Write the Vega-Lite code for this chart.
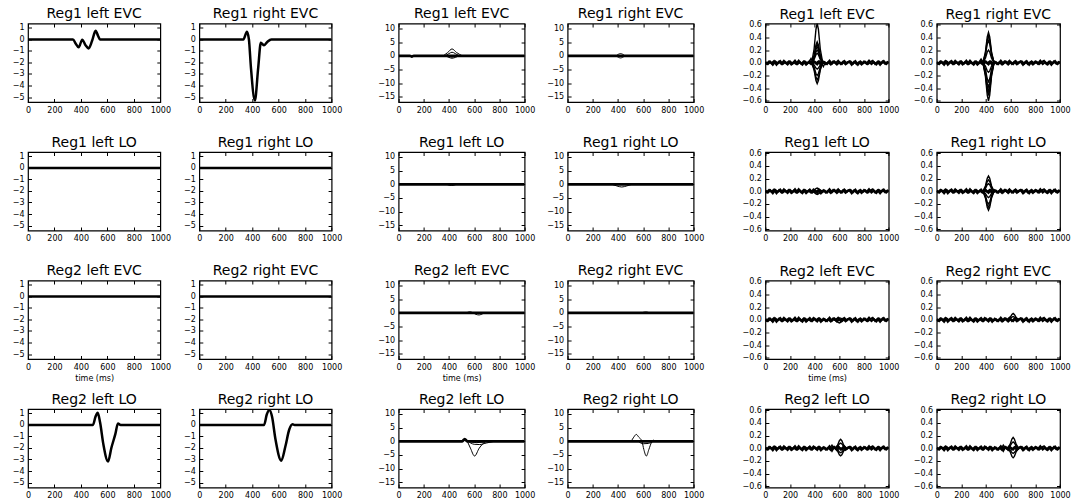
{
"$schema":"https://vega.github.io/schema/vega-lite/v6.json",
"padding":{"left":11,"top":5.5,"right":0,"bottom":0},
"config":{
 "view":{"stroke":"black","strokeWidth":1.2},
 "font":"DejaVu Sans",
 "numberFormat":"d",
 "point":{"size":0,"strokeWidth":0,"opacity":0},
 "axis":{"domain":false,"grid":false,"tickColor":"black","tickSize":-3.5,"tickWidth":1,"labelFont":"DejaVu Sans","labelFontSize":8,"labelColor":"black","labelPadding":7.5,"labelFlush":false,"labelOverlap":false,"titleFont":"DejaVu Sans","titleFontSize":8,"titleFontWeight":"normal","titleColor":"black","titlePadding":3},
 "title":{"font":"DejaVu Sans","fontSize":14,"fontWeight":"normal","color":"black","offset":2}
},
"datasets":{"nz":[
{"s":"n1","t":0,"v":0.01},{"s":"n1","t":20,"v":-0.02},{"s":"n1","t":40,"v":0.015},{"s":"n1","t":60,"v":-0.03},{"s":"n1","t":80,"v":0.02},{"s":"n1","t":100,"v":-0.01},{"s":"n1","t":120,"v":0.025},{"s":"n1","t":140,"v":-0.02},{"s":"n1","t":160,"v":0.01},{"s":"n1","t":180,"v":-0.025},{"s":"n1","t":200,"v":0.02},{"s":"n1","t":220,"v":-0.015},{"s":"n1","t":240,"v":0.03},{"s":"n1","t":260,"v":-0.02},{"s":"n1","t":280,"v":0.01},{"s":"n1","t":300,"v":-0.03},{"s":"n1","t":320,"v":0.02},{"s":"n1","t":340,"v":-0.01},{"s":"n1","t":360,"v":0.025},{"s":"n1","t":380,"v":-0.02},{"s":"n1","t":400,"v":0.015},{"s":"n1","t":420,"v":-0.025},{"s":"n1","t":440,"v":0.02},{"s":"n1","t":460,"v":-0.015},{"s":"n1","t":480,"v":0.01},{"s":"n1","t":500,"v":-0.02},{"s":"n1","t":520,"v":0.03},{"s":"n1","t":540,"v":-0.015},{"s":"n1","t":560,"v":0.02},{"s":"n1","t":580,"v":-0.025},{"s":"n1","t":600,"v":0.01},{"s":"n1","t":620,"v":-0.02},{"s":"n1","t":640,"v":0.025},{"s":"n1","t":660,"v":-0.01},{"s":"n1","t":680,"v":0.02},{"s":"n1","t":700,"v":-0.03},{"s":"n1","t":720,"v":0.015},{"s":"n1","t":740,"v":-0.02},{"s":"n1","t":760,"v":0.01},{"s":"n1","t":780,"v":-0.025},{"s":"n1","t":800,"v":0.02},{"s":"n1","t":820,"v":-0.015},{"s":"n1","t":840,"v":0.03},{"s":"n1","t":860,"v":-0.02},{"s":"n1","t":880,"v":0.01},{"s":"n1","t":900,"v":-0.025},{"s":"n1","t":920,"v":0.02},{"s":"n1","t":940,"v":-0.01},{"s":"n1","t":960,"v":0.025},{"s":"n1","t":980,"v":-0.02},{"s":"n1","t":1000,"v":0.01},
{"s":"n2","t":0,"v":0.005},{"s":"n2","t":10,"v":-0.015},{"s":"n2","t":30,"v":0.02},{"s":"n2","t":50,"v":-0.01},{"s":"n2","t":70,"v":0.025},{"s":"n2","t":90,"v":-0.03},{"s":"n2","t":110,"v":0.015},{"s":"n2","t":130,"v":-0.02},{"s":"n2","t":150,"v":0.03},{"s":"n2","t":170,"v":-0.01},{"s":"n2","t":190,"v":0.02},{"s":"n2","t":210,"v":-0.025},{"s":"n2","t":230,"v":0.01},{"s":"n2","t":250,"v":-0.02},{"s":"n2","t":270,"v":0.03},{"s":"n2","t":290,"v":-0.015},{"s":"n2","t":310,"v":0.02},{"s":"n2","t":330,"v":-0.03},{"s":"n2","t":350,"v":0.01},{"s":"n2","t":370,"v":-0.02},{"s":"n2","t":390,"v":0.025},{"s":"n2","t":410,"v":-0.01},{"s":"n2","t":430,"v":0.02},{"s":"n2","t":450,"v":-0.03},{"s":"n2","t":470,"v":0.015},{"s":"n2","t":490,"v":-0.02},{"s":"n2","t":510,"v":0.01},{"s":"n2","t":530,"v":-0.025},{"s":"n2","t":550,"v":0.02},{"s":"n2","t":570,"v":-0.01},{"s":"n2","t":590,"v":0.03},{"s":"n2","t":610,"v":-0.02},{"s":"n2","t":630,"v":0.015},{"s":"n2","t":650,"v":-0.025},{"s":"n2","t":670,"v":0.01},{"s":"n2","t":690,"v":0.02},{"s":"n2","t":710,"v":-0.015},{"s":"n2","t":730,"v":0.025},{"s":"n2","t":750,"v":-0.03},{"s":"n2","t":770,"v":0.02},{"s":"n2","t":790,"v":-0.01},{"s":"n2","t":810,"v":0.015},{"s":"n2","t":830,"v":-0.02},{"s":"n2","t":850,"v":0.01},{"s":"n2","t":870,"v":0.03},{"s":"n2","t":890,"v":-0.02},{"s":"n2","t":910,"v":0.015},{"s":"n2","t":930,"v":-0.03},{"s":"n2","t":950,"v":0.02},{"s":"n2","t":970,"v":-0.015},{"s":"n2","t":990,"v":0.01},{"s":"n2","t":1000,"v":0}
]},
"data":{"values":[
{"p":"1a","s":"m","t":0,"v":0},{"p":"1a","s":"m","t":340,"v":0},{"p":"1a","s":"m","t":360,"v":-0.35},{"p":"1a","s":"m","t":383,"v":-0.69},{"p":"1a","s":"m","t":410,"v":-0.02},{"p":"1a","s":"m","t":435,"v":-0.5},{"p":"1a","s":"m","t":458,"v":-0.78},{"p":"1a","s":"m","t":485,"v":-0.1},{"p":"1a","s":"m","t":511,"v":0.75},{"p":"1a","s":"m","t":530,"v":0.3},{"p":"1a","s":"m","t":544,"v":0},{"p":"1a","s":"m","t":1000,"v":0},
{"p":"1b","s":"m","t":0,"v":0},{"p":"1b","s":"m","t":333,"v":0},{"p":"1b","s":"m","t":360,"v":0.67},{"p":"1b","s":"m","t":375,"v":0},{"p":"1b","s":"m","t":390,"v":-2.4},{"p":"1b","s":"m","t":420,"v":-5.3},{"p":"1b","s":"m","t":445,"v":-2.5},{"p":"1b","s":"m","t":465,"v":-0.3},{"p":"1b","s":"m","t":490,"v":-0.5},{"p":"1b","s":"m","t":515,"v":-0.2},{"p":"1b","s":"m","t":545,"v":0},{"p":"1b","s":"m","t":1000,"v":0},
{"p":"1c","s":"m","t":0,"v":0},{"p":"1c","s":"m","t":1000,"v":0},
{"p":"1d","s":"m","t":0,"v":0},{"p":"1d","s":"m","t":1000,"v":0},
{"p":"1e","s":"m","t":0,"v":0},{"p":"1e","s":"m","t":1000,"v":0},
{"p":"1f","s":"m","t":0,"v":0},{"p":"1f","s":"m","t":1000,"v":0},
{"p":"1g","s":"m","t":0,"v":0},{"p":"1g","s":"m","t":491,"v":0},{"p":"1g","s":"m","t":510,"v":0.7},{"p":"1g","s":"m","t":527,"v":1.05},{"p":"1g","s":"m","t":545,"v":0.2},{"p":"1g","s":"m","t":570,"v":-1.7},{"p":"1g","s":"m","t":605,"v":-3.17},{"p":"1g","s":"m","t":630,"v":-2.0},{"p":"1g","s":"m","t":660,"v":-0.8},{"p":"1g","s":"m","t":680,"v":0.12},{"p":"1g","s":"m","t":700,"v":0},{"p":"1g","s":"m","t":1000,"v":0},
{"p":"1h","s":"m","t":0,"v":0},{"p":"1h","s":"m","t":490,"v":0},{"p":"1h","s":"m","t":510,"v":0.9},{"p":"1h","s":"m","t":530,"v":1.3},{"p":"1h","s":"m","t":550,"v":0.7},{"p":"1h","s":"m","t":575,"v":-1.2},{"p":"1h","s":"m","t":620,"v":-3.1},{"p":"1h","s":"m","t":650,"v":-1.9},{"p":"1h","s":"m","t":680,"v":-0.4},{"p":"1h","s":"m","t":705,"v":0.05},{"p":"1h","s":"m","t":720,"v":0},{"p":"1h","s":"m","t":1000,"v":0},
{"p":"2a","s":"m","t":0,"v":0},{"p":"2a","s":"m","t":90,"v":0},{"p":"2a","s":"m","t":105,"v":-0.3},{"p":"2a","s":"m","t":120,"v":0},{"p":"2a","s":"m","t":1000,"v":0},
{"p":"2a","s":"a","t":355,"v":0},{"p":"2a","s":"a","t":390,"v":1.2},{"p":"2a","s":"a","t":424,"v":2.5},{"p":"2a","s":"a","t":460,"v":1.2},{"p":"2a","s":"a","t":505,"v":0},
{"p":"2a","s":"b","t":370,"v":0},{"p":"2a","s":"b","t":400,"v":0.8},{"p":"2a","s":"b","t":424,"v":1.3},{"p":"2a","s":"b","t":450,"v":0.8},{"p":"2a","s":"b","t":480,"v":0},
{"p":"2a","s":"c","t":370,"v":0},{"p":"2a","s":"c","t":400,"v":-0.6},{"p":"2a","s":"c","t":424,"v":-0.9},{"p":"2a","s":"c","t":450,"v":-0.6},{"p":"2a","s":"c","t":480,"v":0},
{"p":"2a","s":"d","t":390,"v":0},{"p":"2a","s":"d","t":424,"v":-0.5},{"p":"2a","s":"d","t":460,"v":0},
{"p":"2b","s":"m","t":0,"v":0},{"p":"2b","s":"m","t":1000,"v":0},
{"p":"2b","s":"a","t":385,"v":0},{"p":"2b","s":"a","t":405,"v":0.6},{"p":"2b","s":"a","t":420,"v":0.8},{"p":"2b","s":"a","t":435,"v":0.6},{"p":"2b","s":"a","t":455,"v":0},
{"p":"2b","s":"b","t":385,"v":0},{"p":"2b","s":"b","t":405,"v":-0.6},{"p":"2b","s":"b","t":420,"v":-0.8},{"p":"2b","s":"b","t":435,"v":-0.6},{"p":"2b","s":"b","t":455,"v":0},
{"p":"2c","s":"m","t":0,"v":0},{"p":"2c","s":"m","t":1000,"v":0},
{"p":"2c","s":"a","t":380,"v":0},{"p":"2c","s":"a","t":420,"v":-0.45},{"p":"2c","s":"a","t":460,"v":0},
{"p":"2d","s":"m","t":0,"v":0},{"p":"2d","s":"m","t":1000,"v":0},
{"p":"2d","s":"a","t":350,"v":0},{"p":"2d","s":"a","t":390,"v":-0.6},{"p":"2d","s":"a","t":430,"v":-1.0},{"p":"2d","s":"a","t":470,"v":-0.6},{"p":"2d","s":"a","t":510,"v":0},
{"p":"2e","s":"m","t":0,"v":0},{"p":"2e","s":"m","t":1000,"v":0},
{"p":"2e","s":"a","t":540,"v":0},{"p":"2e","s":"a","t":565,"v":0.35},{"p":"2e","s":"a","t":590,"v":0},{"p":"2e","s":"a","t":615,"v":-0.6},{"p":"2e","s":"a","t":640,"v":-0.8},{"p":"2e","s":"a","t":665,"v":-0.4},{"p":"2e","s":"a","t":690,"v":0},
{"p":"2f","s":"m","t":0,"v":0},{"p":"2f","s":"m","t":1000,"v":0},
{"p":"2f","s":"a","t":590,"v":0},{"p":"2f","s":"a","t":620,"v":0.3},{"p":"2f","s":"a","t":650,"v":0},
{"p":"2g","s":"m","t":0,"v":0},{"p":"2g","s":"m","t":505,"v":0},{"p":"2g","s":"m","t":525,"v":0.8},{"p":"2g","s":"m","t":545,"v":0},{"p":"2g","s":"m","t":1000,"v":0},
{"p":"2g","s":"a","t":545,"v":0},{"p":"2g","s":"a","t":570,"v":-2.5},{"p":"2g","s":"a","t":603,"v":-5.4},{"p":"2g","s":"a","t":640,"v":-2.5},{"p":"2g","s":"a","t":690,"v":0},
{"p":"2g","s":"b","t":550,"v":0},{"p":"2g","s":"b","t":600,"v":-1.1},{"p":"2g","s":"b","t":640,"v":-1.2},{"p":"2g","s":"b","t":700,"v":-0.6},{"p":"2g","s":"b","t":760,"v":0},
{"p":"2g","s":"c","t":560,"v":0},{"p":"2g","s":"c","t":620,"v":-0.5},{"p":"2g","s":"c","t":700,"v":0},
{"p":"2h","s":"m","t":0,"v":0},{"p":"2h","s":"m","t":1000,"v":0},
{"p":"2h","s":"a","t":505,"v":0},{"p":"2h","s":"a","t":525,"v":1.5},{"p":"2h","s":"a","t":545,"v":2.5},{"p":"2h","s":"a","t":565,"v":1.5},{"p":"2h","s":"a","t":590,"v":0},{"p":"2h","s":"a","t":605,"v":-3},{"p":"2h","s":"a","t":625,"v":-5.4},{"p":"2h","s":"a","t":645,"v":-3},{"p":"2h","s":"a","t":665,"v":-0.5},{"p":"2h","s":"a","t":680,"v":0.4},{"p":"2h","s":"a","t":700,"v":0},
{"p":"2h","s":"b","t":560,"v":0},{"p":"2h","s":"b","t":600,"v":-0.9},{"p":"2h","s":"b","t":640,"v":-0.8},{"p":"2h","s":"b","t":680,"v":0},
{"p":"3a","s":"a","t":375,"v":0},{"p":"3a","s":"a","t":395,"v":0.217},{"p":"3a","s":"a","t":410,"v":0.527},{"p":"3a","s":"a","t":420,"v":0.62},{"p":"3a","s":"a","t":430,"v":0.527},{"p":"3a","s":"a","t":445,"v":0.217},{"p":"3a","s":"a","t":465,"v":0},
{"p":"3a","s":"b","t":375,"v":0},{"p":"3a","s":"b","t":395,"v":0.116},{"p":"3a","s":"b","t":410,"v":0.281},{"p":"3a","s":"b","t":420,"v":0.33},{"p":"3a","s":"b","t":430,"v":0.281},{"p":"3a","s":"b","t":445,"v":0.116},{"p":"3a","s":"b","t":465,"v":0},
{"p":"3a","s":"c","t":375,"v":0},{"p":"3a","s":"c","t":395,"v":0.088},{"p":"3a","s":"c","t":410,"v":0.213},{"p":"3a","s":"c","t":420,"v":0.25},{"p":"3a","s":"c","t":430,"v":0.213},{"p":"3a","s":"c","t":445,"v":0.088},{"p":"3a","s":"c","t":465,"v":0},
{"p":"3a","s":"d","t":375,"v":0},{"p":"3a","s":"d","t":395,"v":0.053},{"p":"3a","s":"d","t":410,"v":0.128},{"p":"3a","s":"d","t":420,"v":0.15},{"p":"3a","s":"d","t":430,"v":0.128},{"p":"3a","s":"d","t":445,"v":0.053},{"p":"3a","s":"d","t":465,"v":0},
{"p":"3a","s":"e","t":375,"v":0},{"p":"3a","s":"e","t":395,"v":-0.035},{"p":"3a","s":"e","t":410,"v":-0.085},{"p":"3a","s":"e","t":420,"v":-0.1},{"p":"3a","s":"e","t":430,"v":-0.085},{"p":"3a","s":"e","t":445,"v":-0.035},{"p":"3a","s":"e","t":465,"v":0},
{"p":"3a","s":"f","t":375,"v":0},{"p":"3a","s":"f","t":395,"v":-0.07},{"p":"3a","s":"f","t":410,"v":-0.17},{"p":"3a","s":"f","t":420,"v":-0.2},{"p":"3a","s":"f","t":430,"v":-0.17},{"p":"3a","s":"f","t":445,"v":-0.07},{"p":"3a","s":"f","t":465,"v":0},
{"p":"3a","s":"g","t":375,"v":0},{"p":"3a","s":"g","t":395,"v":-0.116},{"p":"3a","s":"g","t":410,"v":-0.281},{"p":"3a","s":"g","t":420,"v":-0.33},{"p":"3a","s":"g","t":430,"v":-0.281},{"p":"3a","s":"g","t":445,"v":-0.116},{"p":"3a","s":"g","t":465,"v":0},
{"p":"3a","s":"h","t":375,"v":0},{"p":"3a","s":"h","t":395,"v":0.102},{"p":"3a","s":"h","t":410,"v":0.247},{"p":"3a","s":"h","t":420,"v":0.29},{"p":"3a","s":"h","t":430,"v":0.247},{"p":"3a","s":"h","t":445,"v":0.102},{"p":"3a","s":"h","t":465,"v":0},
{"p":"3a","s":"i","t":375,"v":0},{"p":"3a","s":"i","t":395,"v":0.07},{"p":"3a","s":"i","t":410,"v":0.17},{"p":"3a","s":"i","t":420,"v":0.2},{"p":"3a","s":"i","t":430,"v":0.17},{"p":"3a","s":"i","t":445,"v":0.07},{"p":"3a","s":"i","t":465,"v":0},
{"p":"3a","s":"j","t":375,"v":0},{"p":"3a","s":"j","t":395,"v":-0.095},{"p":"3a","s":"j","t":410,"v":-0.23},{"p":"3a","s":"j","t":420,"v":-0.27},{"p":"3a","s":"j","t":430,"v":-0.23},{"p":"3a","s":"j","t":445,"v":-0.095},{"p":"3a","s":"j","t":465,"v":0},
{"p":"3a","s":"k","t":350,"v":0},{"p":"3a","s":"k","t":370,"v":0.07},{"p":"3a","s":"k","t":390,"v":0},
{"p":"3a","s":"l","t":455,"v":0},{"p":"3a","s":"l","t":470,"v":-0.06},{"p":"3a","s":"l","t":485,"v":0},
{"p":"3b","s":"a","t":375,"v":0},{"p":"3b","s":"a","t":395,"v":0.168},{"p":"3b","s":"a","t":410,"v":0.408},{"p":"3b","s":"a","t":420,"v":0.48},{"p":"3b","s":"a","t":430,"v":0.408},{"p":"3b","s":"a","t":445,"v":0.168},{"p":"3b","s":"a","t":465,"v":0},
{"p":"3b","s":"b","t":375,"v":0},{"p":"3b","s":"b","t":395,"v":0.123},{"p":"3b","s":"b","t":410,"v":0.298},{"p":"3b","s":"b","t":420,"v":0.35},{"p":"3b","s":"b","t":430,"v":0.298},{"p":"3b","s":"b","t":445,"v":0.123},{"p":"3b","s":"b","t":465,"v":0},
{"p":"3b","s":"c","t":375,"v":0},{"p":"3b","s":"c","t":395,"v":0.07},{"p":"3b","s":"c","t":410,"v":0.17},{"p":"3b","s":"c","t":420,"v":0.2},{"p":"3b","s":"c","t":430,"v":0.17},{"p":"3b","s":"c","t":445,"v":0.07},{"p":"3b","s":"c","t":465,"v":0},
{"p":"3b","s":"d","t":375,"v":0},{"p":"3b","s":"d","t":395,"v":-0.053},{"p":"3b","s":"d","t":410,"v":-0.128},{"p":"3b","s":"d","t":420,"v":-0.15},{"p":"3b","s":"d","t":430,"v":-0.128},{"p":"3b","s":"d","t":445,"v":-0.053},{"p":"3b","s":"d","t":465,"v":0},
{"p":"3b","s":"e","t":375,"v":0},{"p":"3b","s":"e","t":395,"v":-0.105},{"p":"3b","s":"e","t":410,"v":-0.255},{"p":"3b","s":"e","t":420,"v":-0.3},{"p":"3b","s":"e","t":430,"v":-0.255},{"p":"3b","s":"e","t":445,"v":-0.105},{"p":"3b","s":"e","t":465,"v":0},
{"p":"3b","s":"f","t":375,"v":0},{"p":"3b","s":"f","t":395,"v":-0.158},{"p":"3b","s":"f","t":410,"v":-0.383},{"p":"3b","s":"f","t":420,"v":-0.45},{"p":"3b","s":"f","t":430,"v":-0.383},{"p":"3b","s":"f","t":445,"v":-0.158},{"p":"3b","s":"f","t":465,"v":0},
{"p":"3b","s":"g","t":375,"v":0},{"p":"3b","s":"g","t":395,"v":-0.21},{"p":"3b","s":"g","t":410,"v":-0.51},{"p":"3b","s":"g","t":420,"v":-0.6},{"p":"3b","s":"g","t":430,"v":-0.51},{"p":"3b","s":"g","t":445,"v":-0.21},{"p":"3b","s":"g","t":465,"v":0},
{"p":"3b","s":"h","t":375,"v":0},{"p":"3b","s":"h","t":395,"v":0.147},{"p":"3b","s":"h","t":410,"v":0.357},{"p":"3b","s":"h","t":420,"v":0.42},{"p":"3b","s":"h","t":430,"v":0.357},{"p":"3b","s":"h","t":445,"v":0.147},{"p":"3b","s":"h","t":465,"v":0},
{"p":"3b","s":"i","t":375,"v":0},{"p":"3b","s":"i","t":395,"v":-0.133},{"p":"3b","s":"i","t":410,"v":-0.323},{"p":"3b","s":"i","t":420,"v":-0.38},{"p":"3b","s":"i","t":430,"v":-0.323},{"p":"3b","s":"i","t":445,"v":-0.133},{"p":"3b","s":"i","t":465,"v":0},
{"p":"3b","s":"j","t":375,"v":0},{"p":"3b","s":"j","t":395,"v":-0.182},{"p":"3b","s":"j","t":410,"v":-0.442},{"p":"3b","s":"j","t":420,"v":-0.52},{"p":"3b","s":"j","t":430,"v":-0.442},{"p":"3b","s":"j","t":445,"v":-0.182},{"p":"3b","s":"j","t":465,"v":0},
{"p":"3b","s":"k","t":340,"v":0},{"p":"3b","s":"k","t":360,"v":0.06},{"p":"3b","s":"k","t":380,"v":0},
{"p":"3c","s":"a","t":375,"v":0},{"p":"3c","s":"a","t":395,"v":0.018},{"p":"3c","s":"a","t":410,"v":0.043},{"p":"3c","s":"a","t":420,"v":0.05},{"p":"3c","s":"a","t":430,"v":0.043},{"p":"3c","s":"a","t":445,"v":0.018},{"p":"3c","s":"a","t":465,"v":0},
{"p":"3c","s":"b","t":375,"v":0},{"p":"3c","s":"b","t":395,"v":-0.018},{"p":"3c","s":"b","t":410,"v":-0.043},{"p":"3c","s":"b","t":420,"v":-0.05},{"p":"3c","s":"b","t":430,"v":-0.043},{"p":"3c","s":"b","t":445,"v":-0.018},{"p":"3c","s":"b","t":465,"v":0},
{"p":"3d","s":"a","t":375,"v":0},{"p":"3d","s":"a","t":395,"v":0.084},{"p":"3d","s":"a","t":410,"v":0.204},{"p":"3d","s":"a","t":420,"v":0.24},{"p":"3d","s":"a","t":430,"v":0.204},{"p":"3d","s":"a","t":445,"v":0.084},{"p":"3d","s":"a","t":465,"v":0},
{"p":"3d","s":"b","t":375,"v":0},{"p":"3d","s":"b","t":395,"v":0.042},{"p":"3d","s":"b","t":410,"v":0.102},{"p":"3d","s":"b","t":420,"v":0.12},{"p":"3d","s":"b","t":430,"v":0.102},{"p":"3d","s":"b","t":445,"v":0.042},{"p":"3d","s":"b","t":465,"v":0},
{"p":"3d","s":"c","t":375,"v":0},{"p":"3d","s":"c","t":395,"v":-0.035},{"p":"3d","s":"c","t":410,"v":-0.085},{"p":"3d","s":"c","t":420,"v":-0.1},{"p":"3d","s":"c","t":430,"v":-0.085},{"p":"3d","s":"c","t":445,"v":-0.035},{"p":"3d","s":"c","t":465,"v":0},
{"p":"3d","s":"d","t":375,"v":0},{"p":"3d","s":"d","t":395,"v":-0.07},{"p":"3d","s":"d","t":410,"v":-0.17},{"p":"3d","s":"d","t":420,"v":-0.2},{"p":"3d","s":"d","t":430,"v":-0.17},{"p":"3d","s":"d","t":445,"v":-0.07},{"p":"3d","s":"d","t":465,"v":0},
{"p":"3d","s":"e","t":375,"v":0},{"p":"3d","s":"e","t":395,"v":-0.105},{"p":"3d","s":"e","t":410,"v":-0.255},{"p":"3d","s":"e","t":420,"v":-0.3},{"p":"3d","s":"e","t":430,"v":-0.255},{"p":"3d","s":"e","t":445,"v":-0.105},{"p":"3d","s":"e","t":465,"v":0},
{"p":"3d","s":"f","t":375,"v":0},{"p":"3d","s":"f","t":395,"v":0.063},{"p":"3d","s":"f","t":410,"v":0.153},{"p":"3d","s":"f","t":420,"v":0.18},{"p":"3d","s":"f","t":430,"v":0.153},{"p":"3d","s":"f","t":445,"v":0.063},{"p":"3d","s":"f","t":465,"v":0},
{"p":"3d","s":"g","t":375,"v":0},{"p":"3d","s":"g","t":395,"v":-0.088},{"p":"3d","s":"g","t":410,"v":-0.213},{"p":"3d","s":"g","t":420,"v":-0.25},{"p":"3d","s":"g","t":430,"v":-0.213},{"p":"3d","s":"g","t":445,"v":-0.088},{"p":"3d","s":"g","t":465,"v":0},
{"p":"3e","s":"a","t":555,"v":0},{"p":"3e","s":"a","t":575,"v":0.011},{"p":"3e","s":"a","t":590,"v":0.026},{"p":"3e","s":"a","t":600,"v":0.03},{"p":"3e","s":"a","t":610,"v":0.026},{"p":"3e","s":"a","t":625,"v":0.011},{"p":"3e","s":"a","t":645,"v":0},
{"p":"3e","s":"b","t":555,"v":0},{"p":"3e","s":"b","t":575,"v":-0.018},{"p":"3e","s":"b","t":590,"v":-0.043},{"p":"3e","s":"b","t":600,"v":-0.05},{"p":"3e","s":"b","t":610,"v":-0.043},{"p":"3e","s":"b","t":625,"v":-0.018},{"p":"3e","s":"b","t":645,"v":0},
{"p":"3f","s":"a","t":575,"v":0},{"p":"3f","s":"a","t":595,"v":0.035},{"p":"3f","s":"a","t":610,"v":0.085},{"p":"3f","s":"a","t":620,"v":0.1},{"p":"3f","s":"a","t":630,"v":0.085},{"p":"3f","s":"a","t":645,"v":0.035},{"p":"3f","s":"a","t":665,"v":0},
{"p":"3f","s":"b","t":575,"v":0},{"p":"3f","s":"b","t":595,"v":0.018},{"p":"3f","s":"b","t":610,"v":0.043},{"p":"3f","s":"b","t":620,"v":0.05},{"p":"3f","s":"b","t":630,"v":0.043},{"p":"3f","s":"b","t":645,"v":0.018},{"p":"3f","s":"b","t":665,"v":0},
{"p":"3g","s":"a","t":565,"v":0},{"p":"3g","s":"a","t":585,"v":0.049},{"p":"3g","s":"a","t":600,"v":0.119},{"p":"3g","s":"a","t":610,"v":0.14},{"p":"3g","s":"a","t":620,"v":0.119},{"p":"3g","s":"a","t":635,"v":0.049},{"p":"3g","s":"a","t":655,"v":0},
{"p":"3g","s":"b","t":565,"v":0},{"p":"3g","s":"b","t":585,"v":0.028},{"p":"3g","s":"b","t":600,"v":0.068},{"p":"3g","s":"b","t":610,"v":0.08},{"p":"3g","s":"b","t":620,"v":0.068},{"p":"3g","s":"b","t":635,"v":0.028},{"p":"3g","s":"b","t":655,"v":0},
{"p":"3g","s":"c","t":565,"v":0},{"p":"3g","s":"c","t":585,"v":-0.025},{"p":"3g","s":"c","t":600,"v":-0.06},{"p":"3g","s":"c","t":610,"v":-0.07},{"p":"3g","s":"c","t":620,"v":-0.06},{"p":"3g","s":"c","t":635,"v":-0.025},{"p":"3g","s":"c","t":655,"v":0},
{"p":"3g","s":"d","t":565,"v":0},{"p":"3g","s":"d","t":585,"v":-0.042},{"p":"3g","s":"d","t":600,"v":-0.102},{"p":"3g","s":"d","t":610,"v":-0.12},{"p":"3g","s":"d","t":620,"v":-0.102},{"p":"3g","s":"d","t":635,"v":-0.042},{"p":"3g","s":"d","t":655,"v":0},
{"p":"3g","s":"k","t":525,"v":0},{"p":"3g","s":"k","t":540,"v":0.05},{"p":"3g","s":"k","t":555,"v":0},
{"p":"3g","s":"l","t":525,"v":0},{"p":"3g","s":"l","t":540,"v":-0.05},{"p":"3g","s":"l","t":555,"v":0},
{"p":"3h","s":"a","t":575,"v":0},{"p":"3h","s":"a","t":595,"v":0.06},{"p":"3h","s":"a","t":610,"v":0.145},{"p":"3h","s":"a","t":620,"v":0.17},{"p":"3h","s":"a","t":630,"v":0.145},{"p":"3h","s":"a","t":645,"v":0.06},{"p":"3h","s":"a","t":665,"v":0},
{"p":"3h","s":"b","t":575,"v":0},{"p":"3h","s":"b","t":595,"v":0.035},{"p":"3h","s":"b","t":610,"v":0.085},{"p":"3h","s":"b","t":620,"v":0.1},{"p":"3h","s":"b","t":630,"v":0.085},{"p":"3h","s":"b","t":645,"v":0.035},{"p":"3h","s":"b","t":665,"v":0},
{"p":"3h","s":"c","t":575,"v":0},{"p":"3h","s":"c","t":595,"v":-0.028},{"p":"3h","s":"c","t":610,"v":-0.068},{"p":"3h","s":"c","t":620,"v":-0.08},{"p":"3h","s":"c","t":630,"v":-0.068},{"p":"3h","s":"c","t":645,"v":-0.028},{"p":"3h","s":"c","t":665,"v":0},
{"p":"3h","s":"d","t":575,"v":0},{"p":"3h","s":"d","t":595,"v":-0.053},{"p":"3h","s":"d","t":610,"v":-0.128},{"p":"3h","s":"d","t":620,"v":-0.15},{"p":"3h","s":"d","t":630,"v":-0.128},{"p":"3h","s":"d","t":645,"v":-0.053},{"p":"3h","s":"d","t":665,"v":0},
{"p":"3h","s":"k","t":525,"v":0},{"p":"3h","s":"k","t":540,"v":0.05},{"p":"3h","s":"k","t":555,"v":0},
{"p":"3h","s":"l","t":525,"v":0},{"p":"3h","s":"l","t":540,"v":-0.05},{"p":"3h","s":"l","t":555,"v":0}
]},
"spacing":33.6,
"hconcat":[
{"columns":2,"bounds":"flush","spacing":{"row":49.5,"column":38.3},"concat":[
{"title":"Reg1 left EVC","width":132.3,"height":78.5,"resolve":{"axis":{"x":"independent","y":"independent"}},"layer":[
 {"transform":[{"filter":"datum.p=='1a'"}],"mark":{"type":"line","color":"black","interpolate":"monotone","clip":true},"encoding":{"x":{"field":"t","type":"quantitative","scale":{"domain":[0,1000],"nice":false,"zero":false},"axis":{"values":[0,200,400,600,800,1000],"title":null}},"y":{"field":"v","type":"quantitative","scale":{"domain":[-5.43,1.38],"nice":false,"zero":false},"axis":{"values":[1,0,-1,-2,-3,-4,-5],"format":"d","title":null}},"detail":{"field":"s"},"strokeWidth":{"condition":{"test":"datum.s=='m'","value":2.5},"value":1}}},
 {"transform":[{"filter":"datum.p=='1a'"}],"mark":{"type":"point"},"encoding":{"x":{"field":"t","type":"quantitative","scale":{"domain":[0,1000],"nice":false,"zero":false},"axis":{"orient":"top","values":[0,200,400,600,800,1000],"labels":false,"title":null}},"y":{"field":"v","type":"quantitative","scale":{"domain":[-5.43,1.38],"nice":false,"zero":false},"axis":{"orient":"right","values":[1,0,-1,-2,-3,-4,-5],"labels":false,"title":null}}}}]},
{"title":"Reg1 right EVC","width":132.3,"height":78.5,"resolve":{"axis":{"x":"independent","y":"independent"}},"layer":[
 {"transform":[{"filter":"datum.p=='1b'"}],"mark":{"type":"line","color":"black","interpolate":"monotone","clip":true},"encoding":{"x":{"field":"t","type":"quantitative","scale":{"domain":[0,1000],"nice":false,"zero":false},"axis":{"values":[0,200,400,600,800,1000],"title":null}},"y":{"field":"v","type":"quantitative","scale":{"domain":[-5.43,1.38],"nice":false,"zero":false},"axis":{"values":[1,0,-1,-2,-3,-4,-5],"format":"d","title":null}},"detail":{"field":"s"},"strokeWidth":{"condition":{"test":"datum.s=='m'","value":2.5},"value":1}}},
 {"transform":[{"filter":"datum.p=='1b'"}],"mark":{"type":"point"},"encoding":{"x":{"field":"t","type":"quantitative","scale":{"domain":[0,1000],"nice":false,"zero":false},"axis":{"orient":"top","values":[0,200,400,600,800,1000],"labels":false,"title":null}},"y":{"field":"v","type":"quantitative","scale":{"domain":[-5.43,1.38],"nice":false,"zero":false},"axis":{"orient":"right","values":[1,0,-1,-2,-3,-4,-5],"labels":false,"title":null}}}}]},
{"title":"Reg1 left LO","width":132.3,"height":78.5,"resolve":{"axis":{"x":"independent","y":"independent"}},"layer":[
 {"transform":[{"filter":"datum.p=='1c'"}],"mark":{"type":"line","color":"black","interpolate":"monotone","clip":true},"encoding":{"x":{"field":"t","type":"quantitative","scale":{"domain":[0,1000],"nice":false,"zero":false},"axis":{"values":[0,200,400,600,800,1000],"title":null}},"y":{"field":"v","type":"quantitative","scale":{"domain":[-5.43,1.38],"nice":false,"zero":false},"axis":{"values":[1,0,-1,-2,-3,-4,-5],"format":"d","title":null}},"detail":{"field":"s"},"strokeWidth":{"condition":{"test":"datum.s=='m'","value":2.5},"value":1}}},
 {"transform":[{"filter":"datum.p=='1c'"}],"mark":{"type":"point"},"encoding":{"x":{"field":"t","type":"quantitative","scale":{"domain":[0,1000],"nice":false,"zero":false},"axis":{"orient":"top","values":[0,200,400,600,800,1000],"labels":false,"title":null}},"y":{"field":"v","type":"quantitative","scale":{"domain":[-5.43,1.38],"nice":false,"zero":false},"axis":{"orient":"right","values":[1,0,-1,-2,-3,-4,-5],"labels":false,"title":null}}}}]},
{"title":"Reg1 right LO","width":132.3,"height":78.5,"resolve":{"axis":{"x":"independent","y":"independent"}},"layer":[
 {"transform":[{"filter":"datum.p=='1d'"}],"mark":{"type":"line","color":"black","interpolate":"monotone","clip":true},"encoding":{"x":{"field":"t","type":"quantitative","scale":{"domain":[0,1000],"nice":false,"zero":false},"axis":{"values":[0,200,400,600,800,1000],"title":null}},"y":{"field":"v","type":"quantitative","scale":{"domain":[-5.43,1.38],"nice":false,"zero":false},"axis":{"values":[1,0,-1,-2,-3,-4,-5],"format":"d","title":null}},"detail":{"field":"s"},"strokeWidth":{"condition":{"test":"datum.s=='m'","value":2.5},"value":1}}},
 {"transform":[{"filter":"datum.p=='1d'"}],"mark":{"type":"point"},"encoding":{"x":{"field":"t","type":"quantitative","scale":{"domain":[0,1000],"nice":false,"zero":false},"axis":{"orient":"top","values":[0,200,400,600,800,1000],"labels":false,"title":null}},"y":{"field":"v","type":"quantitative","scale":{"domain":[-5.43,1.38],"nice":false,"zero":false},"axis":{"orient":"right","values":[1,0,-1,-2,-3,-4,-5],"labels":false,"title":null}}}}]},
{"title":"Reg2 left EVC","width":132.3,"height":78.5,"resolve":{"axis":{"x":"independent","y":"independent"}},"layer":[
 {"transform":[{"filter":"datum.p=='1e'"}],"mark":{"type":"line","color":"black","interpolate":"monotone","clip":true},"encoding":{"x":{"field":"t","type":"quantitative","scale":{"domain":[0,1000],"nice":false,"zero":false},"axis":{"values":[0,200,400,600,800,1000],"title":"time (ms)"}},"y":{"field":"v","type":"quantitative","scale":{"domain":[-5.43,1.38],"nice":false,"zero":false},"axis":{"values":[1,0,-1,-2,-3,-4,-5],"format":"d","title":null}},"detail":{"field":"s"},"strokeWidth":{"condition":{"test":"datum.s=='m'","value":2.5},"value":1}}},
 {"transform":[{"filter":"datum.p=='1e'"}],"mark":{"type":"point"},"encoding":{"x":{"field":"t","type":"quantitative","scale":{"domain":[0,1000],"nice":false,"zero":false},"axis":{"orient":"top","values":[0,200,400,600,800,1000],"labels":false,"title":null}},"y":{"field":"v","type":"quantitative","scale":{"domain":[-5.43,1.38],"nice":false,"zero":false},"axis":{"orient":"right","values":[1,0,-1,-2,-3,-4,-5],"labels":false,"title":null}}}}]},
{"title":"Reg2 right EVC","width":132.3,"height":78.5,"resolve":{"axis":{"x":"independent","y":"independent"}},"layer":[
 {"transform":[{"filter":"datum.p=='1f'"}],"mark":{"type":"line","color":"black","interpolate":"monotone","clip":true},"encoding":{"x":{"field":"t","type":"quantitative","scale":{"domain":[0,1000],"nice":false,"zero":false},"axis":{"values":[0,200,400,600,800,1000],"title":null}},"y":{"field":"v","type":"quantitative","scale":{"domain":[-5.43,1.38],"nice":false,"zero":false},"axis":{"values":[1,0,-1,-2,-3,-4,-5],"format":"d","title":null}},"detail":{"field":"s"},"strokeWidth":{"condition":{"test":"datum.s=='m'","value":2.5},"value":1}}},
 {"transform":[{"filter":"datum.p=='1f'"}],"mark":{"type":"point"},"encoding":{"x":{"field":"t","type":"quantitative","scale":{"domain":[0,1000],"nice":false,"zero":false},"axis":{"orient":"top","values":[0,200,400,600,800,1000],"labels":false,"title":null}},"y":{"field":"v","type":"quantitative","scale":{"domain":[-5.43,1.38],"nice":false,"zero":false},"axis":{"orient":"right","values":[1,0,-1,-2,-3,-4,-5],"labels":false,"title":null}}}}]},
{"title":"Reg2 left LO","width":132.3,"height":78.5,"resolve":{"axis":{"x":"independent","y":"independent"}},"layer":[
 {"transform":[{"filter":"datum.p=='1g'"}],"mark":{"type":"line","color":"black","interpolate":"monotone","clip":true},"encoding":{"x":{"field":"t","type":"quantitative","scale":{"domain":[0,1000],"nice":false,"zero":false},"axis":{"values":[0,200,400,600,800,1000],"title":null}},"y":{"field":"v","type":"quantitative","scale":{"domain":[-5.43,1.38],"nice":false,"zero":false},"axis":{"values":[1,0,-1,-2,-3,-4,-5],"format":"d","title":null}},"detail":{"field":"s"},"strokeWidth":{"condition":{"test":"datum.s=='m'","value":2.5},"value":1}}},
 {"transform":[{"filter":"datum.p=='1g'"}],"mark":{"type":"point"},"encoding":{"x":{"field":"t","type":"quantitative","scale":{"domain":[0,1000],"nice":false,"zero":false},"axis":{"orient":"top","values":[0,200,400,600,800,1000],"labels":false,"title":null}},"y":{"field":"v","type":"quantitative","scale":{"domain":[-5.43,1.38],"nice":false,"zero":false},"axis":{"orient":"right","values":[1,0,-1,-2,-3,-4,-5],"labels":false,"title":null}}}}]},
{"title":"Reg2 right LO","width":132.3,"height":78.5,"resolve":{"axis":{"x":"independent","y":"independent"}},"layer":[
 {"transform":[{"filter":"datum.p=='1h'"}],"mark":{"type":"line","color":"black","interpolate":"monotone","clip":true},"encoding":{"x":{"field":"t","type":"quantitative","scale":{"domain":[0,1000],"nice":false,"zero":false},"axis":{"values":[0,200,400,600,800,1000],"title":null}},"y":{"field":"v","type":"quantitative","scale":{"domain":[-5.43,1.38],"nice":false,"zero":false},"axis":{"values":[1,0,-1,-2,-3,-4,-5],"format":"d","title":null}},"detail":{"field":"s"},"strokeWidth":{"condition":{"test":"datum.s=='m'","value":2.5},"value":1}}},
 {"transform":[{"filter":"datum.p=='1h'"}],"mark":{"type":"point"},"encoding":{"x":{"field":"t","type":"quantitative","scale":{"domain":[0,1000],"nice":false,"zero":false},"axis":{"orient":"top","values":[0,200,400,600,800,1000],"labels":false,"title":null}},"y":{"field":"v","type":"quantitative","scale":{"domain":[-5.43,1.38],"nice":false,"zero":false},"axis":{"orient":"right","values":[1,0,-1,-2,-3,-4,-5],"labels":false,"title":null}}}}]}
]},
{"spacing":35.8,"hconcat":[
{"columns":2,"bounds":"flush","spacing":{"row":49.5,"column":43},"concat":[
{"title":"Reg1 left EVC","width":126,"height":78.5,"resolve":{"axis":{"x":"independent","y":"independent"}},"layer":[
 {"transform":[{"filter":"datum.p=='2a'"}],"mark":{"type":"line","color":"black","interpolate":"monotone","clip":true},"encoding":{"x":{"field":"t","type":"quantitative","scale":{"domain":[0,1000],"nice":false,"zero":false},"axis":{"values":[0,200,400,600,800,1000],"title":null}},"y":{"field":"v","type":"quantitative","scale":{"domain":[-16.9,11.8],"nice":false,"zero":false},"axis":{"values":[10,5,0,-5,-10,-15],"format":"d","title":null}},"detail":{"field":"s"},"strokeWidth":{"condition":{"test":"datum.s=='m'","value":2.8},"value":1}}},
 {"transform":[{"filter":"datum.p=='2a'"}],"mark":{"type":"point"},"encoding":{"x":{"field":"t","type":"quantitative","scale":{"domain":[0,1000],"nice":false,"zero":false},"axis":{"orient":"top","values":[0,200,400,600,800,1000],"labels":false,"title":null}},"y":{"field":"v","type":"quantitative","scale":{"domain":[-16.9,11.8],"nice":false,"zero":false},"axis":{"orient":"right","values":[10,5,0,-5,-10,-15],"labels":false,"title":null}}}}]},
{"title":"Reg1 right EVC","width":126,"height":78.5,"resolve":{"axis":{"x":"independent","y":"independent"}},"layer":[
 {"transform":[{"filter":"datum.p=='2b'"}],"mark":{"type":"line","color":"black","interpolate":"monotone","clip":true},"encoding":{"x":{"field":"t","type":"quantitative","scale":{"domain":[0,1000],"nice":false,"zero":false},"axis":{"values":[0,200,400,600,800,1000],"title":null}},"y":{"field":"v","type":"quantitative","scale":{"domain":[-16.9,11.8],"nice":false,"zero":false},"axis":{"values":[10,5,0,-5,-10,-15],"format":"d","title":null}},"detail":{"field":"s"},"strokeWidth":{"condition":{"test":"datum.s=='m'","value":2.8},"value":1}}},
 {"transform":[{"filter":"datum.p=='2b'"}],"mark":{"type":"point"},"encoding":{"x":{"field":"t","type":"quantitative","scale":{"domain":[0,1000],"nice":false,"zero":false},"axis":{"orient":"top","values":[0,200,400,600,800,1000],"labels":false,"title":null}},"y":{"field":"v","type":"quantitative","scale":{"domain":[-16.9,11.8],"nice":false,"zero":false},"axis":{"orient":"right","values":[10,5,0,-5,-10,-15],"labels":false,"title":null}}}}]},
{"title":"Reg1 left LO","width":126,"height":78.5,"resolve":{"axis":{"x":"independent","y":"independent"}},"layer":[
 {"transform":[{"filter":"datum.p=='2c'"}],"mark":{"type":"line","color":"black","interpolate":"monotone","clip":true},"encoding":{"x":{"field":"t","type":"quantitative","scale":{"domain":[0,1000],"nice":false,"zero":false},"axis":{"values":[0,200,400,600,800,1000],"title":null}},"y":{"field":"v","type":"quantitative","scale":{"domain":[-16.9,11.8],"nice":false,"zero":false},"axis":{"values":[10,5,0,-5,-10,-15],"format":"d","title":null}},"detail":{"field":"s"},"strokeWidth":{"condition":{"test":"datum.s=='m'","value":2.8},"value":1}}},
 {"transform":[{"filter":"datum.p=='2c'"}],"mark":{"type":"point"},"encoding":{"x":{"field":"t","type":"quantitative","scale":{"domain":[0,1000],"nice":false,"zero":false},"axis":{"orient":"top","values":[0,200,400,600,800,1000],"labels":false,"title":null}},"y":{"field":"v","type":"quantitative","scale":{"domain":[-16.9,11.8],"nice":false,"zero":false},"axis":{"orient":"right","values":[10,5,0,-5,-10,-15],"labels":false,"title":null}}}}]},
{"title":"Reg1 right LO","width":126,"height":78.5,"resolve":{"axis":{"x":"independent","y":"independent"}},"layer":[
 {"transform":[{"filter":"datum.p=='2d'"}],"mark":{"type":"line","color":"black","interpolate":"monotone","clip":true},"encoding":{"x":{"field":"t","type":"quantitative","scale":{"domain":[0,1000],"nice":false,"zero":false},"axis":{"values":[0,200,400,600,800,1000],"title":null}},"y":{"field":"v","type":"quantitative","scale":{"domain":[-16.9,11.8],"nice":false,"zero":false},"axis":{"values":[10,5,0,-5,-10,-15],"format":"d","title":null}},"detail":{"field":"s"},"strokeWidth":{"condition":{"test":"datum.s=='m'","value":2.8},"value":1}}},
 {"transform":[{"filter":"datum.p=='2d'"}],"mark":{"type":"point"},"encoding":{"x":{"field":"t","type":"quantitative","scale":{"domain":[0,1000],"nice":false,"zero":false},"axis":{"orient":"top","values":[0,200,400,600,800,1000],"labels":false,"title":null}},"y":{"field":"v","type":"quantitative","scale":{"domain":[-16.9,11.8],"nice":false,"zero":false},"axis":{"orient":"right","values":[10,5,0,-5,-10,-15],"labels":false,"title":null}}}}]},
{"title":"Reg2 left EVC","width":126,"height":78.5,"resolve":{"axis":{"x":"independent","y":"independent"}},"layer":[
 {"transform":[{"filter":"datum.p=='2e'"}],"mark":{"type":"line","color":"black","interpolate":"monotone","clip":true},"encoding":{"x":{"field":"t","type":"quantitative","scale":{"domain":[0,1000],"nice":false,"zero":false},"axis":{"values":[0,200,400,600,800,1000],"title":"time (ms)"}},"y":{"field":"v","type":"quantitative","scale":{"domain":[-16.9,11.8],"nice":false,"zero":false},"axis":{"values":[10,5,0,-5,-10,-15],"format":"d","title":null}},"detail":{"field":"s"},"strokeWidth":{"condition":{"test":"datum.s=='m'","value":2.8},"value":1}}},
 {"transform":[{"filter":"datum.p=='2e'"}],"mark":{"type":"point"},"encoding":{"x":{"field":"t","type":"quantitative","scale":{"domain":[0,1000],"nice":false,"zero":false},"axis":{"orient":"top","values":[0,200,400,600,800,1000],"labels":false,"title":null}},"y":{"field":"v","type":"quantitative","scale":{"domain":[-16.9,11.8],"nice":false,"zero":false},"axis":{"orient":"right","values":[10,5,0,-5,-10,-15],"labels":false,"title":null}}}}]},
{"title":"Reg2 right EVC","width":126,"height":78.5,"resolve":{"axis":{"x":"independent","y":"independent"}},"layer":[
 {"transform":[{"filter":"datum.p=='2f'"}],"mark":{"type":"line","color":"black","interpolate":"monotone","clip":true},"encoding":{"x":{"field":"t","type":"quantitative","scale":{"domain":[0,1000],"nice":false,"zero":false},"axis":{"values":[0,200,400,600,800,1000],"title":null}},"y":{"field":"v","type":"quantitative","scale":{"domain":[-16.9,11.8],"nice":false,"zero":false},"axis":{"values":[10,5,0,-5,-10,-15],"format":"d","title":null}},"detail":{"field":"s"},"strokeWidth":{"condition":{"test":"datum.s=='m'","value":2.8},"value":1}}},
 {"transform":[{"filter":"datum.p=='2f'"}],"mark":{"type":"point"},"encoding":{"x":{"field":"t","type":"quantitative","scale":{"domain":[0,1000],"nice":false,"zero":false},"axis":{"orient":"top","values":[0,200,400,600,800,1000],"labels":false,"title":null}},"y":{"field":"v","type":"quantitative","scale":{"domain":[-16.9,11.8],"nice":false,"zero":false},"axis":{"orient":"right","values":[10,5,0,-5,-10,-15],"labels":false,"title":null}}}}]},
{"title":"Reg2 left LO","width":126,"height":78.5,"resolve":{"axis":{"x":"independent","y":"independent"}},"layer":[
 {"transform":[{"filter":"datum.p=='2g'"}],"mark":{"type":"line","color":"black","interpolate":"monotone","clip":true},"encoding":{"x":{"field":"t","type":"quantitative","scale":{"domain":[0,1000],"nice":false,"zero":false},"axis":{"values":[0,200,400,600,800,1000],"title":null}},"y":{"field":"v","type":"quantitative","scale":{"domain":[-16.9,11.8],"nice":false,"zero":false},"axis":{"values":[10,5,0,-5,-10,-15],"format":"d","title":null}},"detail":{"field":"s"},"strokeWidth":{"condition":{"test":"datum.s=='m'","value":2.8},"value":1}}},
 {"transform":[{"filter":"datum.p=='2g'"}],"mark":{"type":"point"},"encoding":{"x":{"field":"t","type":"quantitative","scale":{"domain":[0,1000],"nice":false,"zero":false},"axis":{"orient":"top","values":[0,200,400,600,800,1000],"labels":false,"title":null}},"y":{"field":"v","type":"quantitative","scale":{"domain":[-16.9,11.8],"nice":false,"zero":false},"axis":{"orient":"right","values":[10,5,0,-5,-10,-15],"labels":false,"title":null}}}}]},
{"title":"Reg2 right LO","width":126,"height":78.5,"resolve":{"axis":{"x":"independent","y":"independent"}},"layer":[
 {"transform":[{"filter":"datum.p=='2h'"}],"mark":{"type":"line","color":"black","interpolate":"monotone","clip":true},"encoding":{"x":{"field":"t","type":"quantitative","scale":{"domain":[0,1000],"nice":false,"zero":false},"axis":{"values":[0,200,400,600,800,1000],"title":null}},"y":{"field":"v","type":"quantitative","scale":{"domain":[-16.9,11.8],"nice":false,"zero":false},"axis":{"values":[10,5,0,-5,-10,-15],"format":"d","title":null}},"detail":{"field":"s"},"strokeWidth":{"condition":{"test":"datum.s=='m'","value":2.8},"value":1}}},
 {"transform":[{"filter":"datum.p=='2h'"}],"mark":{"type":"point"},"encoding":{"x":{"field":"t","type":"quantitative","scale":{"domain":[0,1000],"nice":false,"zero":false},"axis":{"orient":"top","values":[0,200,400,600,800,1000],"labels":false,"title":null}},"y":{"field":"v","type":"quantitative","scale":{"domain":[-16.9,11.8],"nice":false,"zero":false},"axis":{"orient":"right","values":[10,5,0,-5,-10,-15],"labels":false,"title":null}}}}]}
]},
{"columns":2,"bounds":"flush","spacing":{"row":49.5,"column":47.3},"concat":[
{"title":{"text":"Reg1 left EVC","offset":-1},"width":123.3,"height":78.5,"resolve":{"axis":{"x":"independent","y":"independent"}},"layer":[
 {"data":{"name":"nz"},"mark":{"type":"line","color":"black","strokeWidth":2.2,"clip":true},"encoding":{"x":{"field":"t","type":"quantitative","scale":{"domain":[0,1000],"nice":false,"zero":false},"axis":null},"y":{"field":"v","type":"quantitative","scale":{"domain":[-0.62,0.62],"nice":false,"zero":false},"axis":null},"detail":{"field":"s"}}},
 {"transform":[{"filter":"datum.p=='3a'"}],"mark":{"type":"line","color":"black","strokeWidth":1.4,"clip":true},"encoding":{"x":{"field":"t","type":"quantitative","scale":{"domain":[0,1000],"nice":false,"zero":false},"axis":{"values":[0,200,400,600,800,1000],"title":null}},"y":{"field":"v","type":"quantitative","scale":{"domain":[-0.62,0.62],"nice":false,"zero":false},"axis":{"values":[0.6,0.4,0.2,0,-0.2,-0.4,-0.6],"format":".1f","title":null}},"detail":{"field":"s"}}},
 {"transform":[{"filter":"datum.p=='3a'"}],"mark":{"type":"point"},"encoding":{"x":{"field":"t","type":"quantitative","scale":{"domain":[0,1000],"nice":false,"zero":false},"axis":{"orient":"top","values":[0,200,400,600,800,1000],"labels":false,"title":null}},"y":{"field":"v","type":"quantitative","scale":{"domain":[-0.62,0.62],"nice":false,"zero":false},"axis":{"orient":"right","values":[0.6,0.4,0.2,0,-0.2,-0.4,-0.6],"labels":false,"title":null}}}}]},
{"title":{"text":"Reg1 right EVC","offset":-1},"width":123.3,"height":78.5,"resolve":{"axis":{"x":"independent","y":"independent"}},"layer":[
 {"data":{"name":"nz"},"mark":{"type":"line","color":"black","strokeWidth":2.2,"clip":true},"encoding":{"x":{"field":"t","type":"quantitative","scale":{"domain":[0,1000],"nice":false,"zero":false},"axis":null},"y":{"field":"v","type":"quantitative","scale":{"domain":[-0.62,0.62],"nice":false,"zero":false},"axis":null},"detail":{"field":"s"}}},
 {"transform":[{"filter":"datum.p=='3b'"}],"mark":{"type":"line","color":"black","strokeWidth":1.4,"clip":true},"encoding":{"x":{"field":"t","type":"quantitative","scale":{"domain":[0,1000],"nice":false,"zero":false},"axis":{"values":[0,200,400,600,800,1000],"title":null}},"y":{"field":"v","type":"quantitative","scale":{"domain":[-0.62,0.62],"nice":false,"zero":false},"axis":{"values":[0.6,0.4,0.2,0,-0.2,-0.4,-0.6],"format":".1f","title":null}},"detail":{"field":"s"}}},
 {"transform":[{"filter":"datum.p=='3b'"}],"mark":{"type":"point"},"encoding":{"x":{"field":"t","type":"quantitative","scale":{"domain":[0,1000],"nice":false,"zero":false},"axis":{"orient":"top","values":[0,200,400,600,800,1000],"labels":false,"title":null}},"y":{"field":"v","type":"quantitative","scale":{"domain":[-0.62,0.62],"nice":false,"zero":false},"axis":{"orient":"right","values":[0.6,0.4,0.2,0,-0.2,-0.4,-0.6],"labels":false,"title":null}}}}]},
{"title":{"text":"Reg1 left LO","offset":-1},"width":123.3,"height":78.5,"resolve":{"axis":{"x":"independent","y":"independent"}},"layer":[
 {"data":{"name":"nz"},"mark":{"type":"line","color":"black","strokeWidth":2.2,"clip":true},"encoding":{"x":{"field":"t","type":"quantitative","scale":{"domain":[0,1000],"nice":false,"zero":false},"axis":null},"y":{"field":"v","type":"quantitative","scale":{"domain":[-0.62,0.62],"nice":false,"zero":false},"axis":null},"detail":{"field":"s"}}},
 {"transform":[{"filter":"datum.p=='3c'"}],"mark":{"type":"line","color":"black","strokeWidth":1.4,"clip":true},"encoding":{"x":{"field":"t","type":"quantitative","scale":{"domain":[0,1000],"nice":false,"zero":false},"axis":{"values":[0,200,400,600,800,1000],"title":null}},"y":{"field":"v","type":"quantitative","scale":{"domain":[-0.62,0.62],"nice":false,"zero":false},"axis":{"values":[0.6,0.4,0.2,0,-0.2,-0.4,-0.6],"format":".1f","title":null}},"detail":{"field":"s"}}},
 {"transform":[{"filter":"datum.p=='3c'"}],"mark":{"type":"point"},"encoding":{"x":{"field":"t","type":"quantitative","scale":{"domain":[0,1000],"nice":false,"zero":false},"axis":{"orient":"top","values":[0,200,400,600,800,1000],"labels":false,"title":null}},"y":{"field":"v","type":"quantitative","scale":{"domain":[-0.62,0.62],"nice":false,"zero":false},"axis":{"orient":"right","values":[0.6,0.4,0.2,0,-0.2,-0.4,-0.6],"labels":false,"title":null}}}}]},
{"title":{"text":"Reg1 right LO","offset":-1},"width":123.3,"height":78.5,"resolve":{"axis":{"x":"independent","y":"independent"}},"layer":[
 {"data":{"name":"nz"},"mark":{"type":"line","color":"black","strokeWidth":2.2,"clip":true},"encoding":{"x":{"field":"t","type":"quantitative","scale":{"domain":[0,1000],"nice":false,"zero":false},"axis":null},"y":{"field":"v","type":"quantitative","scale":{"domain":[-0.62,0.62],"nice":false,"zero":false},"axis":null},"detail":{"field":"s"}}},
 {"transform":[{"filter":"datum.p=='3d'"}],"mark":{"type":"line","color":"black","strokeWidth":1.4,"clip":true},"encoding":{"x":{"field":"t","type":"quantitative","scale":{"domain":[0,1000],"nice":false,"zero":false},"axis":{"values":[0,200,400,600,800,1000],"title":null}},"y":{"field":"v","type":"quantitative","scale":{"domain":[-0.62,0.62],"nice":false,"zero":false},"axis":{"values":[0.6,0.4,0.2,0,-0.2,-0.4,-0.6],"format":".1f","title":null}},"detail":{"field":"s"}}},
 {"transform":[{"filter":"datum.p=='3d'"}],"mark":{"type":"point"},"encoding":{"x":{"field":"t","type":"quantitative","scale":{"domain":[0,1000],"nice":false,"zero":false},"axis":{"orient":"top","values":[0,200,400,600,800,1000],"labels":false,"title":null}},"y":{"field":"v","type":"quantitative","scale":{"domain":[-0.62,0.62],"nice":false,"zero":false},"axis":{"orient":"right","values":[0.6,0.4,0.2,0,-0.2,-0.4,-0.6],"labels":false,"title":null}}}}]},
{"title":{"text":"Reg2 left EVC","offset":-1},"width":123.3,"height":78.5,"resolve":{"axis":{"x":"independent","y":"independent"}},"layer":[
 {"data":{"name":"nz"},"mark":{"type":"line","color":"black","strokeWidth":2.2,"clip":true},"encoding":{"x":{"field":"t","type":"quantitative","scale":{"domain":[0,1000],"nice":false,"zero":false},"axis":null},"y":{"field":"v","type":"quantitative","scale":{"domain":[-0.62,0.62],"nice":false,"zero":false},"axis":null},"detail":{"field":"s"}}},
 {"transform":[{"filter":"datum.p=='3e'"}],"mark":{"type":"line","color":"black","strokeWidth":1.4,"clip":true},"encoding":{"x":{"field":"t","type":"quantitative","scale":{"domain":[0,1000],"nice":false,"zero":false},"axis":{"values":[0,200,400,600,800,1000],"title":"time (ms)"}},"y":{"field":"v","type":"quantitative","scale":{"domain":[-0.62,0.62],"nice":false,"zero":false},"axis":{"values":[0.6,0.4,0.2,0,-0.2,-0.4,-0.6],"format":".1f","title":null}},"detail":{"field":"s"}}},
 {"transform":[{"filter":"datum.p=='3e'"}],"mark":{"type":"point"},"encoding":{"x":{"field":"t","type":"quantitative","scale":{"domain":[0,1000],"nice":false,"zero":false},"axis":{"orient":"top","values":[0,200,400,600,800,1000],"labels":false,"title":null}},"y":{"field":"v","type":"quantitative","scale":{"domain":[-0.62,0.62],"nice":false,"zero":false},"axis":{"orient":"right","values":[0.6,0.4,0.2,0,-0.2,-0.4,-0.6],"labels":false,"title":null}}}}]},
{"title":{"text":"Reg2 right EVC","offset":-1},"width":123.3,"height":78.5,"resolve":{"axis":{"x":"independent","y":"independent"}},"layer":[
 {"data":{"name":"nz"},"mark":{"type":"line","color":"black","strokeWidth":2.2,"clip":true},"encoding":{"x":{"field":"t","type":"quantitative","scale":{"domain":[0,1000],"nice":false,"zero":false},"axis":null},"y":{"field":"v","type":"quantitative","scale":{"domain":[-0.62,0.62],"nice":false,"zero":false},"axis":null},"detail":{"field":"s"}}},
 {"transform":[{"filter":"datum.p=='3f'"}],"mark":{"type":"line","color":"black","strokeWidth":1.4,"clip":true},"encoding":{"x":{"field":"t","type":"quantitative","scale":{"domain":[0,1000],"nice":false,"zero":false},"axis":{"values":[0,200,400,600,800,1000],"title":null}},"y":{"field":"v","type":"quantitative","scale":{"domain":[-0.62,0.62],"nice":false,"zero":false},"axis":{"values":[0.6,0.4,0.2,0,-0.2,-0.4,-0.6],"format":".1f","title":null}},"detail":{"field":"s"}}},
 {"transform":[{"filter":"datum.p=='3f'"}],"mark":{"type":"point"},"encoding":{"x":{"field":"t","type":"quantitative","scale":{"domain":[0,1000],"nice":false,"zero":false},"axis":{"orient":"top","values":[0,200,400,600,800,1000],"labels":false,"title":null}},"y":{"field":"v","type":"quantitative","scale":{"domain":[-0.62,0.62],"nice":false,"zero":false},"axis":{"orient":"right","values":[0.6,0.4,0.2,0,-0.2,-0.4,-0.6],"labels":false,"title":null}}}}]},
{"title":{"text":"Reg2 left LO","offset":-1},"width":123.3,"height":78.5,"resolve":{"axis":{"x":"independent","y":"independent"}},"layer":[
 {"data":{"name":"nz"},"mark":{"type":"line","color":"black","strokeWidth":2.2,"clip":true},"encoding":{"x":{"field":"t","type":"quantitative","scale":{"domain":[0,1000],"nice":false,"zero":false},"axis":null},"y":{"field":"v","type":"quantitative","scale":{"domain":[-0.62,0.62],"nice":false,"zero":false},"axis":null},"detail":{"field":"s"}}},
 {"transform":[{"filter":"datum.p=='3g'"}],"mark":{"type":"line","color":"black","strokeWidth":1.4,"clip":true},"encoding":{"x":{"field":"t","type":"quantitative","scale":{"domain":[0,1000],"nice":false,"zero":false},"axis":{"values":[0,200,400,600,800,1000],"title":null}},"y":{"field":"v","type":"quantitative","scale":{"domain":[-0.62,0.62],"nice":false,"zero":false},"axis":{"values":[0.6,0.4,0.2,0,-0.2,-0.4,-0.6],"format":".1f","title":null}},"detail":{"field":"s"}}},
 {"transform":[{"filter":"datum.p=='3g'"}],"mark":{"type":"point"},"encoding":{"x":{"field":"t","type":"quantitative","scale":{"domain":[0,1000],"nice":false,"zero":false},"axis":{"orient":"top","values":[0,200,400,600,800,1000],"labels":false,"title":null}},"y":{"field":"v","type":"quantitative","scale":{"domain":[-0.62,0.62],"nice":false,"zero":false},"axis":{"orient":"right","values":[0.6,0.4,0.2,0,-0.2,-0.4,-0.6],"labels":false,"title":null}}}}]},
{"title":{"text":"Reg2 right LO","offset":-1},"width":123.3,"height":78.5,"resolve":{"axis":{"x":"independent","y":"independent"}},"layer":[
 {"data":{"name":"nz"},"mark":{"type":"line","color":"black","strokeWidth":2.2,"clip":true},"encoding":{"x":{"field":"t","type":"quantitative","scale":{"domain":[0,1000],"nice":false,"zero":false},"axis":null},"y":{"field":"v","type":"quantitative","scale":{"domain":[-0.62,0.62],"nice":false,"zero":false},"axis":null},"detail":{"field":"s"}}},
 {"transform":[{"filter":"datum.p=='3h'"}],"mark":{"type":"line","color":"black","strokeWidth":1.4,"clip":true},"encoding":{"x":{"field":"t","type":"quantitative","scale":{"domain":[0,1000],"nice":false,"zero":false},"axis":{"values":[0,200,400,600,800,1000],"title":null}},"y":{"field":"v","type":"quantitative","scale":{"domain":[-0.62,0.62],"nice":false,"zero":false},"axis":{"values":[0.6,0.4,0.2,0,-0.2,-0.4,-0.6],"format":".1f","title":null}},"detail":{"field":"s"}}},
 {"transform":[{"filter":"datum.p=='3h'"}],"mark":{"type":"point"},"encoding":{"x":{"field":"t","type":"quantitative","scale":{"domain":[0,1000],"nice":false,"zero":false},"axis":{"orient":"top","values":[0,200,400,600,800,1000],"labels":false,"title":null}},"y":{"field":"v","type":"quantitative","scale":{"domain":[-0.62,0.62],"nice":false,"zero":false},"axis":{"orient":"right","values":[0.6,0.4,0.2,0,-0.2,-0.4,-0.6],"labels":false,"title":null}}}}]}
]}
]}
]
}
